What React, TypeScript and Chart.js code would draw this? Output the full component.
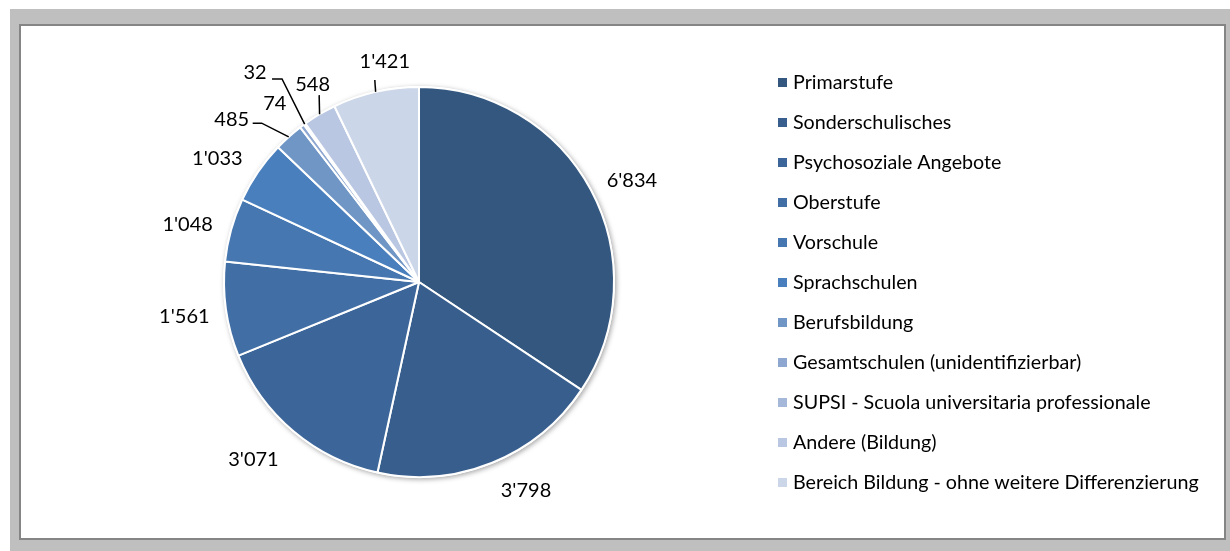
import React, { useEffect, useRef } from "react";
import { Chart, registerables } from "chart.js";

Chart.register(...registerables);

const categories = [
  "Primarstufe",
  "Sonderschulisches",
  "Psychosoziale Angebote",
  "Oberstufe",
  "Vorschule",
  "Sprachschulen",
  "Berufsbildung",
  "Gesamtschulen (unidentifizierbar)",
  "SUPSI - Scuola universitaria professionale",
  "Andere (Bildung)",
  "Bereich Bildung - ohne weitere Differenzierung",
];

const values = [6834, 3798, 3071, 1561, 1048, 1033, 485, 74, 32, 548, 1421];

const colors = [
  "#33577f",
  "#385e8e",
  "#3c669a",
  "#416ea5",
  "#4677b0",
  "#4a7fbd",
  "#7096c6",
  "#8da7d0",
  "#a5b8da",
  "#b9c7e2",
  "#cbd6e8",
];

// label nudges (dx, dy) relative to the default outside position
const labelNudges: [number, number][] = [
  [4, 10],
  [18, -12],
  [-13, -5],
  [0, 0],
  [-3, 5],
  [-6, 9],
  [-29, 13],
  [-2, 10.5],
  [-25, -18.5],
  [14.5, 5],
  [18.5, 10],
];

// leader lines: points relative to label centre, ending at the slice edge
const leaders: ([number, number][] | null)[] = [
  null, null, null, null, null, null,
  [[21, 4.5], [30, 4.5]],
  null,
  [[17, 7.5], [27, 7.5]],
  [[6.5, 12]],
  [[-10, 19]],
];

const FONT = "Lato, 'Open Sans', sans-serif";
const LABEL_FONT_SIZE = 20;
const LEGEND_FONT_SIZE = 19.7;

const fmt = (v: number) => String(v).replace(/\B(?=(\d{3})+(?!\d))/g, "'");

const framePlugin = {
  id: "frame",
  beforeDraw(chart: any) {
    const ctx = chart.ctx;
    const W = chart.width;
    const H = chart.height;
    ctx.save();
    ctx.fillStyle = "#ffffff";
    ctx.fillRect(0, 0, W, H);
    ctx.fillStyle = "#bfbfbf";
    ctx.fillRect(10, 9, W - 10, H - 9);
    ctx.fillStyle = "#ffffff";
    ctx.fillRect(20, 25, 1206, 515);
    ctx.strokeStyle = "#858585";
    ctx.lineWidth = 2;
    ctx.strokeRect(20, 25, 1205, 514);
    ctx.restore();
  },
};

const shadowPlugin = {
  id: "pieShadow",
  beforeDatasetsDraw(chart: any) {
    const meta = chart.getDatasetMeta(0);
    const arc = meta.data[0];
    if (!arc) return;
    const { x, y, outerRadius } = arc.getProps(["x", "y", "outerRadius"], true);
    const ctx = chart.ctx;
    ctx.save();
    ctx.shadowColor = "rgba(0,0,0,0.35)";
    ctx.shadowBlur = 5;
    ctx.shadowOffsetX = 1.5;
    ctx.shadowOffsetY = 1.5;
    ctx.fillStyle = "#ffffff";
    ctx.beginPath();
    ctx.arc(x, y, outerRadius + 1, 0, Math.PI * 2);
    ctx.fill();
    ctx.restore();
  },
};

const labelPlugin = {
  id: "outsideLabels",
  afterDatasetsDraw(chart: any) {
    const meta = chart.getDatasetMeta(0);
    const ctx = chart.ctx;
    ctx.save();
    ctx.font = `${LABEL_FONT_SIZE}px ${FONT}`;
    ctx.fillStyle = "#000000";
    ctx.textAlign = "center";
    ctx.textBaseline = "middle";
    meta.data.forEach((arc: any, i: number) => {
      const { x, y, startAngle, endAngle, outerRadius } = arc.getProps(
        ["x", "y", "startAngle", "endAngle", "outerRadius"],
        true
      );
      const mid = (startAngle + endAngle) / 2;
      const R = outerRadius + 42;
      const [dx, dy] = labelNudges[i] || [0, 0];
      const lx = x + Math.cos(mid) * R + dx;
      const ly = y + Math.sin(mid) * R + dy;
      const pts = leaders[i];
      if (pts) {
        ctx.beginPath();
        ctx.strokeStyle = "#000000";
        ctx.lineWidth = 1.5;
        ctx.moveTo(lx + pts[0][0], ly + pts[0][1]);
        for (let k = 1; k < pts.length; k++) ctx.lineTo(lx + pts[k][0], ly + pts[k][1]);
        ctx.lineTo(x + Math.cos(mid) * outerRadius, y + Math.sin(mid) * outerRadius);
        ctx.stroke();
      }
      ctx.fillText(fmt(chart.data.datasets[0].data[i]), lx, ly + 1);
    });
    ctx.restore();
  },
};

const legendPlugin = {
  id: "customLegend",
  afterDraw(chart: any) {
    const ctx = chart.ctx;
    const labels = chart.data.labels as string[];
    const bg = chart.data.datasets[0].backgroundColor as string[];
    ctx.save();
    ctx.font = `${LEGEND_FONT_SIZE}px ${FONT}`;
    ctx.textAlign = "left";
    ctx.textBaseline = "middle";
    labels.forEach((lab, i) => {
      const cy = 82 + i * 40;
      ctx.fillStyle = bg[i];
      ctx.fillRect(778, cy - 4, 9, 9);
      ctx.fillStyle = "#000000";
      ctx.fillText(lab, 793, cy + 1);
    });
    ctx.restore();
  },
};

export default function App() {
  const ref = useRef<HTMLCanvasElement | null>(null);
  useEffect(() => {
    if (!ref.current) return;
    const chart = new Chart(ref.current, {
      type: "pie",
      data: {
        labels: categories,
        datasets: [
          {
            data: values,
            backgroundColor: colors,
            borderColor: "#ffffff",
            borderWidth: 2,
          },
        ],
      },
      options: {
        responsive: false,
        animation: false,
        layout: { padding: { left: 223, top: 86, right: 615, bottom: 73 } },
        plugins: {
          legend: { display: false },
          tooltip: { enabled: false },
        },
        events: [],
      },
      plugins: [framePlugin, shadowPlugin, labelPlugin, legendPlugin],
    });
    return () => chart.destroy();
  }, []);
  return (
    <div style={{ position: "fixed", left: 0, top: 0, width: 1230, height: 551 }}>
      <canvas ref={ref} width={1230} height={551} style={{ display: "block" }} />
    </div>
  );
}
